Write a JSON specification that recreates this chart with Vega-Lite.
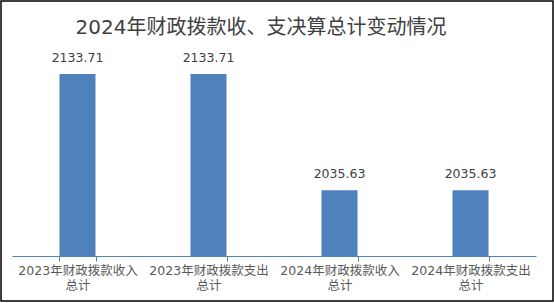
{
  "$schema": "https://vega.github.io/schema/vega-lite/v6.json",
  "width": 552,
  "height": 300,
  "autosize": {"type": "none"},
  "padding": {"left": 1, "top": 1, "right": 1, "bottom": 2},
  "background": "white",
  "config": {
    "view": {"stroke": "#000000", "strokeWidth": 1.5},
    "font": "DejaVu Sans, Noto Sans CJK SC"
  },
  "title": {
    "text": "2024年财政拨款收、支决算总计变动情况",
    "fontSize": 20,
    "fontWeight": "normal",
    "color": "#404040",
    "font": "DejaVu Sans, Noto Sans CJK SC",
    "baseline": "alphabetic",
    "offset": -53,
    "dx": -16
  },
  "data": {
    "values": [
      {"item": "2023年财政拨款收入总计", "value": 2133.71},
      {"item": "2023年财政拨款支出总计", "value": 2133.71},
      {"item": "2024年财政拨款收入总计", "value": 2035.63},
      {"item": "2024年财政拨款支出总计", "value": 2035.63}
    ]
  },
  "encoding": {
    "x": {
      "field": "item",
      "type": "nominal",
      "sort": null,
      "scale": {"range": [11, 535], "paddingInner": 0.725, "paddingOuter": 0.3625},
      "axis": {
        "title": null,
        "offset": -45,
        "tickBand": "extent",
        "tickSize": 5,
        "tickColor": "#4f81bd",
        "domainColor": "#4f81bd",
        "labelAngle": 0,
        "labelFontSize": 12.5,
        "labelColor": "#595959",
        "labelLineHeight": 15,
        "labelPadding": 3,
        "labelExpr": "[substring(datum.label, 0, 11), substring(datum.label, 11)]"
      }
    },
    "y": {
      "field": "value",
      "type": "quantitative",
      "scale": {"domain": [1980, 2160], "range": [255, 42], "zero": false},
      "axis": null
    }
  },
  "layer": [
    {
      "mark": {"type": "bar", "color": "#4f81bd"},
      "encoding": {"y2": {"datum": 1980}}
    },
    {
      "mark": {"type": "text", "baseline": "alphabetic", "dy": -12, "fontSize": 12.5, "color": "#404040"},
      "encoding": {"text": {"field": "value", "type": "quantitative", "format": ".2f"}}
    }
  ]
}
